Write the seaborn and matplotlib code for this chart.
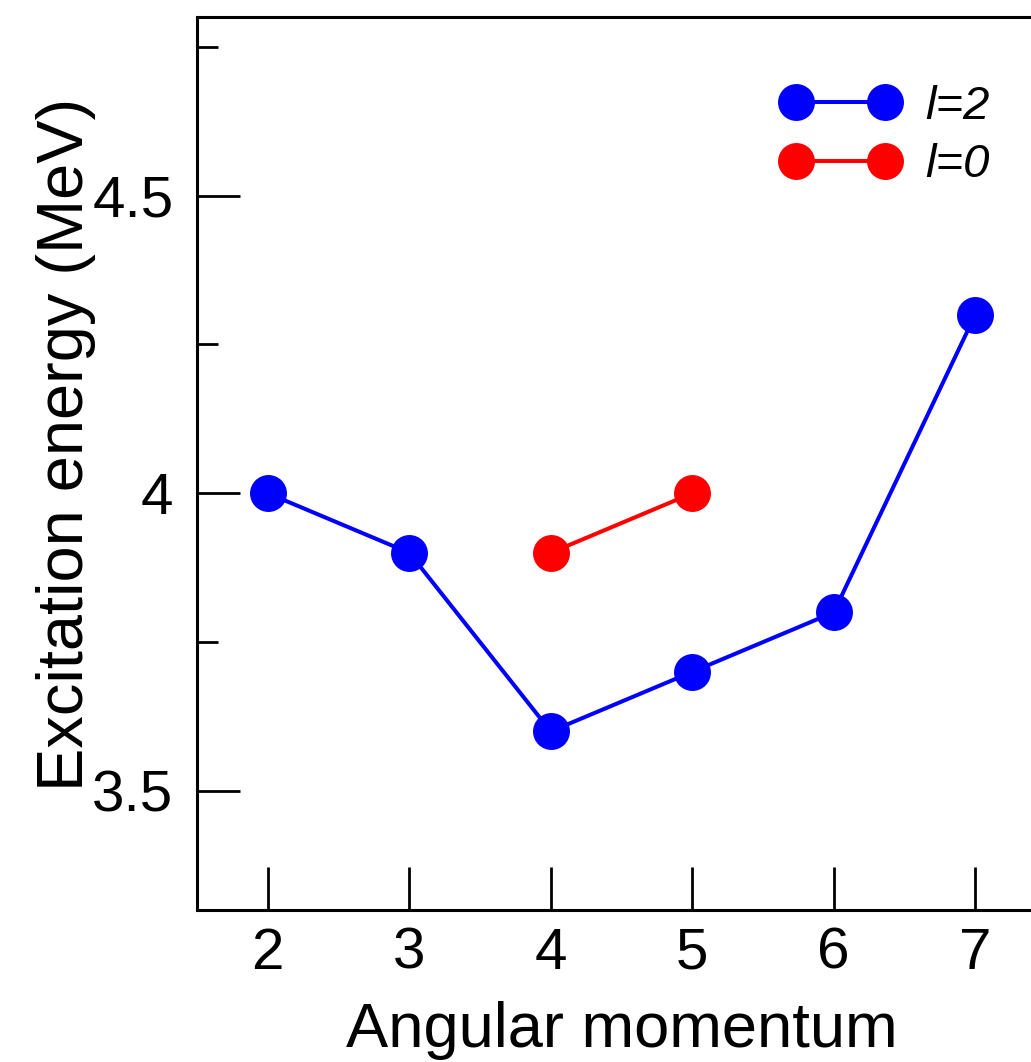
import numpy as np
import matplotlib
matplotlib.use('Agg')
import matplotlib.pyplot as plt
from matplotlib.ticker import MultipleLocator, FormatStrFormatter
import seaborn as sns
import pandas as pd

# dane
l2_x = [2, 3, 4, 5, 6, 7]
l2_y = [4.0, 3.9, 3.6, 3.7, 3.8, 4.3]
l0_x = [4, 5]
l0_y = [3.9, 4.0]
series_names = ['l=2', 'l=0']
series_colors = ['blue', 'red']

df = pd.concat([
    pd.DataFrame({'L': l2_x, 'E': l2_y, 'seria': series_names[0]}),
    pd.DataFrame({'L': l0_x, 'E': l0_y, 'seria': series_names[1]}),
])

sns.set_style('ticks')
plt.rcParams['font.family'] = ['Liberation Sans', 'DejaVu Sans']
plt.rcParams['text.color'] = 'black'
plt.rcParams['axes.labelcolor'] = 'black'
plt.rcParams['axes.edgecolor'] = 'black'

fig = plt.figure(figsize=(10.31, 10.62), dpi=100)
ax = fig.add_axes([197 / 1031, 1 - 910 / 1062, (1046 - 197) / 1031, (910 - 17) / 1062])

sns.lineplot(data=df, x='L', y='E', hue='seria', palette=dict(zip(series_names, series_colors)),
             marker='o', markersize=26.6, markeredgewidth=0, linewidth=2.9, ax=ax)

ax.set_xlim(1.5, 7.5)
ax.set_ylim(3.3, 4.8)
ax.set_xticks(l2_x)
ax.yaxis.set_major_locator(MultipleLocator(0.5))
ax.yaxis.set_minor_locator(MultipleLocator(0.25))
ax.yaxis.set_major_formatter(FormatStrFormatter('%g'))

for s in ['left', 'bottom', 'top']:
    ax.spines[s].set_linewidth(2.2)
    ax.spines[s].set_color('black')
ax.spines['right'].set_visible(False)

ax.tick_params(axis='both', which='major', direction='in', length=31, width=2.0,
               labelsize=42, colors='black')
ax.tick_params(axis='y', which='minor', direction='in', length=15, width=2.0, colors='black')
ax.tick_params(axis='y', which='major', pad=17)
ax.tick_params(axis='x', which='major', pad=12)

ax.set_xlabel('Angular momentum', fontsize=45.5, color='black')
ax.set_ylabel('Excitation energy (MeV)', fontsize=46.7, color='black')
ax.xaxis.set_label_coords((622 - 197) / (1046 - 197), -0.102)
ax.yaxis.set_label_coords(-0.119, (910 - 444) / (910 - 17))

handles, labels = ax.get_legend_handles_labels()
leg = ax.legend(handles, labels, numpoints=2, handlelength=2.49, handletextpad=0.55,
                frameon=False, loc='upper left', bbox_to_anchor=(782 / 1031, 1 - 85 / 1062),
                bbox_transform=fig.transFigure, borderpad=0, borderaxespad=0,
                labelspacing=0.3, prop={'size': 34, 'style': 'italic'})
for t in leg.get_texts():
    t.set_color('black')

fig.savefig('out.png', dpi=100)
